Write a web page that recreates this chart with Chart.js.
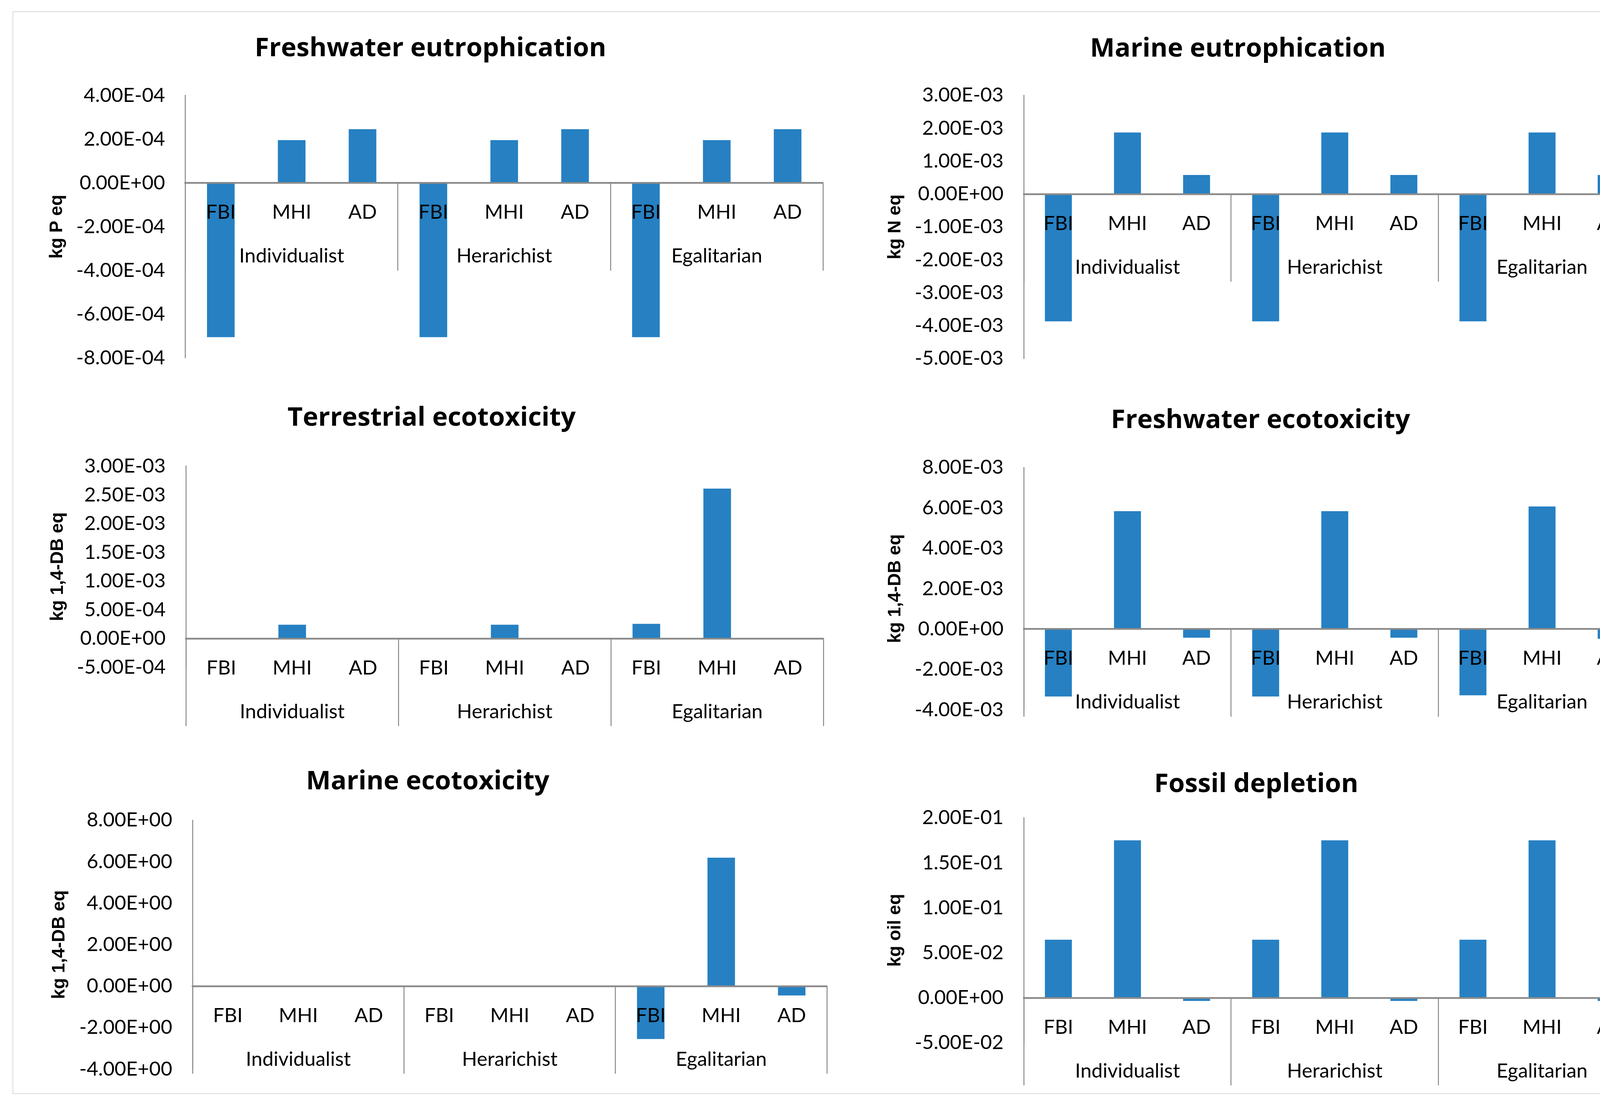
<!DOCTYPE html>
<html>
<head>
<meta charset="utf-8">
<script src="https://cdn.jsdelivr.net/npm/chart.js@4.4.0/dist/chart.umd.min.js"></script>
<style>
html,body{margin:0;padding:0;background:#ffffff;}
body{width:4302px;height:2842px;position:relative;overflow:hidden;}
#frame{position:absolute;left:32px;top:29px;width:4244px;height:2772px;border:2px solid #d9d9d9;box-sizing:border-box;}
canvas{position:absolute;}
</style>
</head>
<body>
<div id="frame"></div>
<canvas id="c0"></canvas>
<canvas id="c1"></canvas>
<canvas id="c2"></canvas>
<canvas id="c3"></canvas>
<canvas id="c4"></canvas>
<canvas id="c5"></canvas>
<script>
// ---------- DATA ----------
const categories = ['FBI', 'MHI', 'AD'];
const groups = ['Individualist', 'Herarichist', 'Egalitarian'];

const freshwaterEutrophication = [-7.05e-4, 1.96e-4, 2.46e-4, -7.05e-4, 1.96e-4, 2.46e-4, -7.05e-4, 1.96e-4, 2.46e-4];
const marineEutrophication     = [-3.87e-3, 1.87e-3, 5.8e-4, -3.87e-3, 1.87e-3, 5.8e-4, -3.87e-3, 1.87e-3, 5.8e-4];
const terrestrialEcotoxicity   = [0, 2.4e-4, 0, 0, 2.4e-4, 0, 2.55e-4, 2.61e-3, 0];
const freshwaterEcotoxicity    = [-3.34e-3, 5.84e-3, -4.3e-4, -3.34e-3, 5.84e-3, -4.3e-4, -3.28e-3, 6.07e-3, -4.8e-4];
const marineEcotoxicity        = [0, 0, 0, 0, 0, 0, -2.55, 6.19, -0.45];
const fossilDepletion          = [6.46e-2, 1.75e-1, -3.4e-3, 6.46e-2, 1.75e-1, -3.4e-3, 6.46e-2, 1.75e-1, -3.4e-3];

const chartTitles = ['Freshwater eutrophication', 'Marine eutrophication', 'Terrestrial ecotoxicity',
                     'Freshwater ecotoxicity', 'Marine ecotoxicity', 'Fossil depletion'];
const unitLabels = ['kg P eq', 'kg N eq', 'kg 1,4-DB eq', 'kg 1,4-DB eq', 'kg 1,4-DB eq', 'kg oil eq'];
const seriesList = [freshwaterEutrophication, marineEutrophication, terrestrialEcotoxicity,
                    freshwaterEcotoxicity, marineEcotoxicity, fossilDepletion];
// y-axis tick ranges (min, max, step)
const yMins  = [-8e-4, -5e-3, -5e-4, -4e-3, -4, -5e-2];
const yMaxs  = [4e-4, 3e-3, 3e-3, 8e-3, 8, 2e-1];
const ySteps = [2e-4, 1e-3, 5e-4, 2e-3, 2, 5e-2];

// ---------- LAYOUT (pixels, page coordinates) ----------
const panelLayout = [
  {cx: 33,   cy: 30,   w: 2140, h: 930, pl: 474.6, pr: 2107, pt: 244.5, pb: 916.5,  tcx: 1102, tcy: 127,    ytx: 146},
  {cx: 2100, cy: 30,   w: 2175, h: 930, pl: 2621,  pr: 4213, pt: 244,   pb: 918,    tcx: 3169, tcy: 128,    ytx: 2292},
  {cx: 33,   cy: 960,  w: 2140, h: 940, pl: 476,   pr: 2108, pt: 1193.6,pb: 1708.3, tcx: 1105, tcy: 1073,   ytx: 148},
  {cx: 2100, cy: 960,  w: 2175, h: 940, pl: 2621,  pr: 4213, pt: 1197,  pb: 1817.4, tcx: 3227, tcy: 1079,   ytx: 2292},
  {cx: 33,   cy: 1900, w: 2140, h: 895, pl: 493,   pr: 2117, pt: 2100,  pb: 2737.2, tcx: 1095, tcy: 2004,   ytx: 152},
  {cx: 2100, cy: 1900, w: 2175, h: 895, pl: 2621,  pr: 4213, pt: 2094,  pb: 2670,   tcx: 3216, tcy: 2011,   ytx: 2292}
];

const BAR = '#2680c2';
const AXIS = '#8a8a8a';
const TXT = '#000000';
const TICK_FONT = {family: 'Lato', size: 51, lineHeight: 1.2};
const TICK_PAD = 52;
const TITLE_SIZE = 67;
const YTITLE_SIZE = 46;

function sci(v, step) {
  if (Math.abs(v) < step * 1e-6) v = 0;
  const parts = v.toExponential(2).split('e');
  const ex = parseInt(parts[1], 10);
  return parts[0] + 'E' + (ex < 0 ? '-' : '+') + String(Math.abs(ex)).padStart(2, '0');
}

const xLabels = [];
groups.forEach(() => categories.forEach(c => xLabels.push(c)));

seriesList.forEach((values, i) => {
  const L = panelLayout[i];
  // the y axis reserves (half label height + tick padding) below the plot, so the canvas must reach past it
  const bottomEdge = Math.max(L.pb + TICK_FONT.size * 1.2 / 2 + TICK_PAD + 8, L.cy + L.h);
  const H = Math.round(bottomEdge - L.cy);
  const cv = document.getElementById('c' + i);
  cv.width = L.w; cv.height = H;
  cv.style.left = L.cx + 'px'; cv.style.top = L.cy + 'px';
  cv.style.width = L.w + 'px'; cv.style.height = H + 'px';

  const padL = 2 * L.tcx - L.pr - L.cx;
  const padR = L.cx + L.w - L.pr;
  const padB = L.cy + H - L.pb;
  const yW = L.pl - L.cx - padL;
  const tLH = TITLE_SIZE * 1.2;
  const tPadTop = (L.tcy - 2) - L.cy - tLH / 2;
  const tPadBottom = L.pt - L.cy - tPadTop - tLH;
  const ytPad = L.ytx - (L.cx + padL) - YTITLE_SIZE * 1.2 / 2;

  new Chart(cv.getContext('2d'), {
    type: 'bar',
    data: {
      labels: xLabels,
      datasets: [{
        data: values,
        backgroundColor: BAR,
        borderWidth: 0,
        barPercentage: 0.39,
        categoryPercentage: 1.0,
        xAxisID: 'x',
        yAxisID: 'y'
      }]
    },
    options: {
      responsive: false,
      animation: false,
      devicePixelRatio: 1,
      layout: {padding: {left: padL, right: padR, top: 0, bottom: padB}},
      plugins: {
        legend: {display: false},
        tooltip: {enabled: false},
        title: {
          display: true,
          text: chartTitles[i],
          color: TXT,
          font: {family: 'Open Sans', weight: 'bold', size: TITLE_SIZE, lineHeight: 1.2},
          padding: {top: tPadTop, bottom: tPadBottom}
        }
      },
      scales: {
        y: {
          type: 'linear',
          position: 'left',
          min: yMins[i],
          max: yMaxs[i],
          afterFit: (s) => { s.width = yW; },
          ticks: {
            stepSize: ySteps[i],
            autoSkip: false,
            color: TXT,
            font: TICK_FONT,
            padding: TICK_PAD,
            callback: (v) => sci(v, ySteps[i])
          },
          grid: {display: true, drawOnChartArea: false, drawTicks: false},
          border: {display: true, color: AXIS, width: 2.5},
          title: {
            display: true,
            text: unitLabels[i],
            color: TXT,
            font: {family: 'Liberation Sans', weight: 'bold', size: YTITLE_SIZE, lineHeight: 1.2},
            padding: {top: ytPad, bottom: 0}
          }
        },
        x: {
          type: 'category',
          axis: 'x',
          position: {y: 0},
          offset: true,
          grid: {display: true, offset: true, drawOnChartArea: false, drawTicks: false},
          border: {display: true, color: AXIS, width: 4.5, z: 1},
          ticks: {autoSkip: false, maxRotation: 0, minRotation: 0, padding: 44.7, color: TXT, font: TICK_FONT, z: 1}
        },
        x2: {
          type: 'category',
          axis: 'x',
          labels: groups,
          position: {y: 0},
          offset: true,
          grid: {display: true, offset: true, drawOnChartArea: false, drawTicks: true, tickLength: 224, color: AXIS, lineWidth: 2.5},
          border: {display: false},
          ticks: {autoSkip: false, maxRotation: 0, minRotation: 0, padding: -67.3, color: TXT, font: TICK_FONT}
        }
      }
    }
  });
});
</script>
</body>
</html>
